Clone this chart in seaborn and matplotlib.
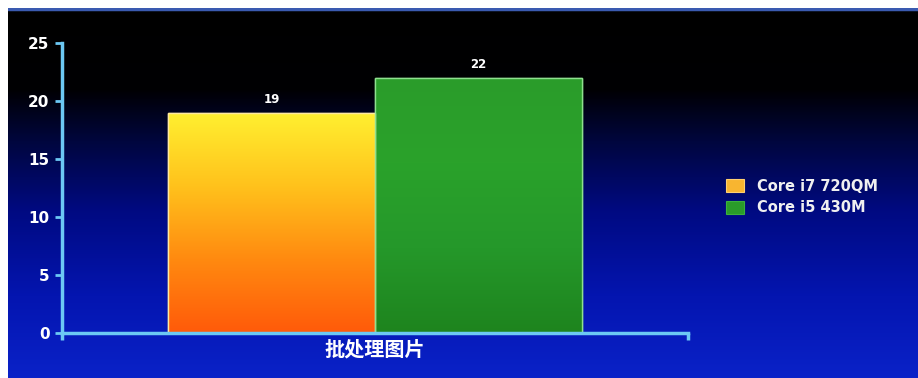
import numpy as np
import pandas as pd
import matplotlib
matplotlib.use("Agg")
import matplotlib.pyplot as plt
from matplotlib.colors import LinearSegmentedColormap
from matplotlib.patches import Patch
import seaborn as sns

# ---- data ----
categories = ["批处理图片"]
series_names = ["Core i7 720QM", "Core i5 430M"]
series_values = [19, 22]
y_ticks = [0, 5, 10, 15, 20, 25]

sns.set_style("ticks")
plt.rcParams["font.family"] = ["DejaVu Sans", "Noto Sans CJK SC"]

df = pd.DataFrame({
    "task": [categories[0]] * len(series_names),
    "cpu": series_names,
    "value": series_values,
})

W, H = 918, 378
fig = plt.figure(figsize=(W / 100, H / 100), dpi=100, facecolor="white")

# background panel with vertical gradient
bg = fig.add_axes([8 / W, 0, 1 - 8 / W, 1 - 8 / H])
bg_cmap = LinearSegmentedColormap.from_list(
    "bg",
    [(0.0, "#000000"), (0.22, "#000003"), (0.36, "#00063e"),
     (0.55, "#000a82"), (0.78, "#0415b0"), (1.0, "#0a22c8")])
grad = np.linspace(0, 1, 256).reshape(-1, 1)
bg.imshow(grad, cmap=bg_cmap, aspect="auto", extent=[0, 1, 0, 1], origin="upper")
bg.axhline(0.996, color="#3a5ab0", lw=2.5)
bg.set_xlim(0, 1)
bg.set_ylim(0, 1)
bg.axis("off")

# main axes
ax = fig.add_axes([62 / W, 45 / H, (688 - 62) / W, (333 - 43) / H])
ax.patch.set_alpha(0)

palette = {series_names[0]: "#f7a51c", series_names[1]: "#27982a"}
sns.barplot(data=df, x="task", y="value", hue="cpu", palette=palette,
            width=0.8, ax=ax, saturation=1, legend=False)

edge_cols = ["#ffe9a0", "#8ee08e"]
grad_maps = [
    LinearSegmentedColormap.from_list("o", ["#ff5a0a", "#ff8a10", "#ffc21c", "#fff030"]),
    LinearSegmentedColormap.from_list("g", ["#1e841e", "#25982a", "#2aa22a", "#2a9c2a"]),
]
bars = list(ax.patches)
for i, p in enumerate(bars):
    p.set_edgecolor(edge_cols[i])
    p.set_linewidth(1.0)
    bb = p.get_bbox()
    im = ax.imshow(np.linspace(0, 1, 256).reshape(-1, 1), cmap=grad_maps[i],
                   origin="lower", aspect="auto",
                   extent=[bb.x0, bb.x1, bb.y0, bb.y1], zorder=p.get_zorder() + 0.1)
    im.set_clip_path(p)
    edge = plt.Rectangle((bb.x0, bb.y0), bb.width, bb.height, fill=False,
                         edgecolor=edge_cols[i], lw=1.0, zorder=p.get_zorder() + 0.2)
    ax.add_patch(edge)

for c in ax.containers:
    ax.bar_label(c, fmt="%d", padding=5, color="white", fontsize=8.5, fontweight="bold")

ax.set_xlim(-0.605, 0.605)
ax.set_ylim(0, 25)
ax.set_yticks(y_ticks)
ax.set_yticklabels([str(v) for v in y_ticks], color="white", fontsize=11, fontweight="bold")
ax.set_xticks([0])
ax.set_xticklabels(categories, color="white", fontsize=14.5, fontweight="bold",
                   family=["Noto Sans CJK SC", "DejaVu Sans"])
ax.tick_params(axis="x", length=0, pad=4)
ax.set_xticks([-0.605, 0.605], minor=True)
ax.tick_params(axis="x", which="minor", length=5, width=2.5, color="#6cc8f4", direction="out")
ax.tick_params(axis="y", length=5, width=2, color="#6cc8f4", pad=4)
ax.set_xlabel("")
ax.set_ylabel("")
for s in ["top", "right"]:
    ax.spines[s].set_visible(False)
for s in ["left", "bottom"]:
    ax.spines[s].set_color("#6cc8f4")
    ax.spines[s].set_linewidth(2.5)

handles = [Patch(facecolor="#f8b530", edgecolor="#ffd070", lw=0.8),
           Patch(facecolor="#2a9c2a", edgecolor="#3cb23c", lw=0.8)]
leg = fig.legend(handles, series_names, loc="center left",
                 bbox_to_anchor=(726 / W, 1 - 197 / H), frameon=False,
                 handlelength=1.2, handleheight=1.0, handletextpad=0.9,
                 labelspacing=0.45, borderpad=0, borderaxespad=0,
                 prop={"weight": "bold", "size": 10.5})
for t in leg.get_texts():
    t.set_color("#f0f0f0")

fig.savefig("out.png", dpi=100, facecolor="white")
